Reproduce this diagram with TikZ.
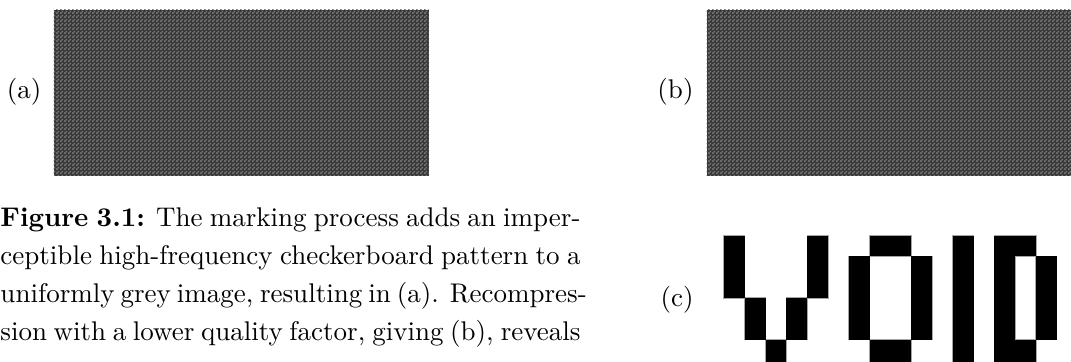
\documentclass[tikz,border=0pt]{standalone}
\usetikzlibrary{patterns}
\pgfdeclarepatternformonly{finecheck}{\pgfpointorigin}{\pgfqpoint{1.6pt}{1.6pt}}{\pgfqpoint{1.6pt}{1.6pt}}{%
  \pgfpathrectangle{\pgfpointorigin}{\pgfqpoint{0.8pt}{0.8pt}}%
  \pgfpathrectangle{\pgfqpoint{0.8pt}{0.8pt}}{\pgfqpoint{0.8pt}{0.8pt}}%
  \pgfusepath{fill}}
\definecolor{chkdark}{HTML}{383838}
\definecolor{chklight}{HTML}{7A7A7A}
\newcommand{\figfont}{\fontsize{10.8}{15.32}\selectfont}
\newcommand{\capline}[1]{\makebox[232pt][s]{#1}}
\tikzset{
  lbl/.style={inner sep=0pt, font=\figfont},
  chkimg/.style={inner sep=0pt, minimum width=150pt, minimum height=66.4pt,
    fill=chkdark, postaction={pattern=finecheck, pattern color=chklight}},
  pix/.style={fill=black},
  pixedge/.style={draw=black!35, line width=0.48pt},
}
\begin{document}
\begin{tikzpicture}[x=0.4pt,y=-0.4pt]
\useasboundingbox (0,0) rectangle (1071,361);
\clip (0,0) rectangle (1071,361);
% images (a) and (b)
\node[chkimg, anchor=north west] (imga) at (53,9) {};
\node[chkimg, anchor=north west] (imgb) at (706,9) {};
\node[lbl, anchor=east] (la) at (42,92) {(a)};
\node[lbl, anchor=east] (lb) at (694,92) {(b)};
\node[lbl, anchor=east] (lc) at (694,300) {(c)};
% caption
\node[anchor=base west, inner sep=0pt] (cap) at (0,226) {\parbox[t]{232pt}{\figfont
  \capline{\textbf{Figure 3.1:} The marking process adds an imper-}\\
  \capline{ceptible high-frequency checkerboard pattern to a}\\
  \capline{uniformly grey image, resulting in (a). Recompres-}\\
  \capline{sion with a lower quality factor, giving (b), reveals}}};
% VOID pixel image (c)
\def\pxs{20.8}
\def\pxx{724}
\def\pxy{235.5}
\def\cells{0/0/1/3, 1/3/2/5, 2/5/3/7, 3/3/4/5, 4/0/5/3,
  6/1/7/5, 7/0/9/1, 7/5/9/7, 9/1/10/5,
  11/0/12/7,
  13/0/14/7, 14/0/15/1, 14/5/15/7, 15/1/16/5}
\foreach \a/\b/\c/\d in \cells {
  \draw[pixedge] ({\pxx+\a*\pxs},{\pxy+\b*\pxs}) rectangle ({\pxx+\c*\pxs},{\pxy+\d*\pxs});
}
\foreach \a/\b/\c/\d in \cells {
  \fill[pix] ({\pxx+\a*\pxs},{\pxy+\b*\pxs}) rectangle ({\pxx+\c*\pxs},{\pxy+\d*\pxs});
}
\end{tikzpicture}
\end{document}
